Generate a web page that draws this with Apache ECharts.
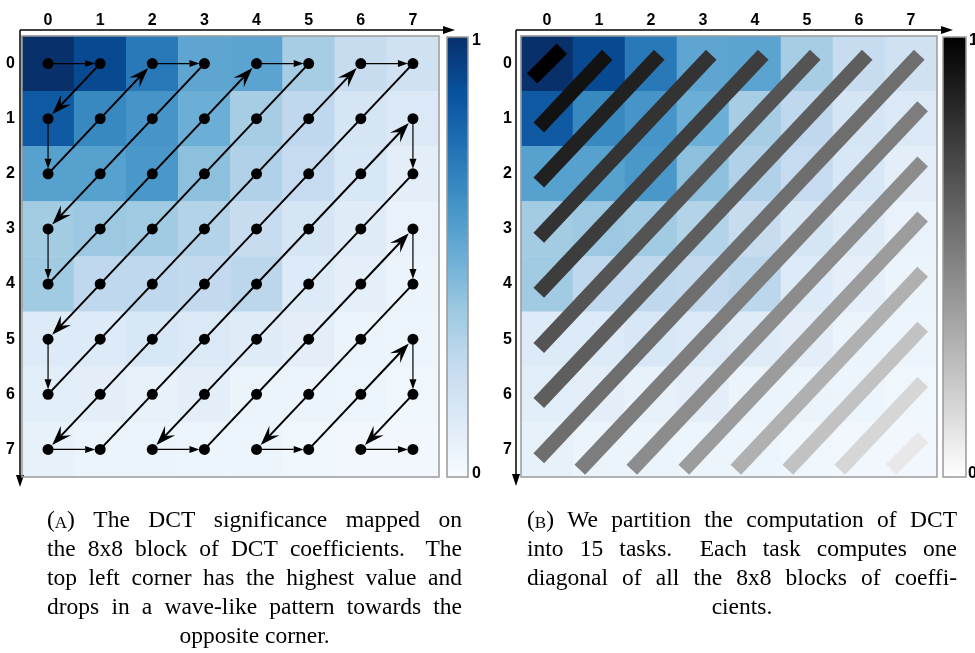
<!DOCTYPE html>
<html><head><meta charset="utf-8">
<script src="https://cdn.jsdelivr.net/npm/echarts@6/dist/echarts.min.js"></script>
<style>html,body{margin:0;padding:0;background:#fff}#c{width:975px;height:653px}</style>
</head><body><div id="c"></div>
<script>
// ---------- data ----------
const colLabels = ['0','1','2','3','4','5','6','7'];
const rowLabels = ['0','1','2','3','4','5','6','7'];
// DCT significance, row by row (row 0 at top), values 0..1
const sigRow0 = [1.00, 0.90, 0.72, 0.54, 0.55, 0.35, 0.24, 0.20];
const sigRow1 = [0.84, 0.66, 0.61, 0.50, 0.35, 0.27, 0.17, 0.14];
const sigRow2 = [0.56, 0.56, 0.60, 0.42, 0.32, 0.25, 0.16, 0.10];
const sigRow3 = [0.36, 0.38, 0.37, 0.31, 0.24, 0.17, 0.12, 0.07];
const sigRow4 = [0.37, 0.27, 0.27, 0.26, 0.28, 0.13, 0.09, 0.06];
const sigRow5 = [0.13, 0.13, 0.16, 0.14, 0.12, 0.10, 0.06, 0.05];
const sigRow6 = [0.11, 0.10, 0.08, 0.10, 0.06, 0.06, 0.05, 0.04];
const sigRow7 = [0.08, 0.06, 0.06, 0.05, 0.05, 0.04, 0.03, 0.03];
const significance = [sigRow0, sigRow1, sigRow2, sigRow3, sigRow4, sigRow5, sigRow6, sigRow7];
// zig-zag scan turning points, [row, col]
const scanPath = [[0,0],[0,1],[1,0],[2,0],[0,2],[0,3],[3,0],[4,0],[0,4],[0,5],[5,0],[6,0],[0,6],[0,7],
  [7,0],[7,1],[1,7],[2,7],[7,2],[7,3],[3,7],[4,7],[7,4],[7,5],[5,7],[6,7],[7,6],[7,7]];
// 15 diagonal tasks (index = row+col) and their shade value (1 = black, 0 = white)
const taskIndex = [0,1,2,3,4,5,6,7,8,9,10,11,12,13,14];
const taskShade = [1.00, 0.93, 0.87, 0.80, 0.76, 0.67, 0.63, 0.57, 0.51, 0.45, 0.39, 0.31, 0.24, 0.16, 0.09];
const colorbarTicks = ['1', '0'];
const captionA = ['(A) The DCT significance mapped on', 'the 8x8 block of DCT coefficients. The',
  'top left corner has the highest value and', 'drops in a wave-like pattern towards the', 'opposite corner.'];
const captionB = ['(B) We partition the computation of DCT', 'into 15 tasks. Each task computes one',
  'diagonal of all the 8x8 blocks of coeffi-', 'cients.'];

// ---------- style ----------
const blues = ['#f7fbff','#deebf7','#c6dbef','#9ecae1','#6baed6','#4292c6','#2171b5','#08519c','#08306b'];
const grays = ['#ffffff', '#000000'];
const labelFont = {color:'#000', fontWeight:'bold', fontSize:16, fontFamily:'Liberation Sans'};
const G = [
  {left:22, top:36, width:417, height:441},
  {left:521, top:36, width:416, height:441}
];

const heatData = [];
significance.forEach((row, r) => row.forEach((v, c) => heatData.push([c, r, v])));
const dotData = [];
rowLabels.forEach((_, r) => colLabels.forEach((_, c) => dotData.push([c, r])));
const arrowData = [];
for (let i = 0; i + 1 < scanPath.length; i++) {
  arrowData.push([scanPath[i][1], scanPath[i][0], scanPath[i+1][1], scanPath[i+1][0]]);
}
const barData = taskIndex.map((k, i) => [k, taskShade[i]]);

function catTop(g) {
  return {type:'category', gridIndex:g, position:'top', data:colLabels,
    axisLine:{show:false}, axisTick:{show:false}, splitLine:{show:false},
    axisLabel:Object.assign({margin:7}, labelFont)};
}
function catBottom(g) {
  return {type:'category', gridIndex:g, position:'bottom', data:colLabels,
    axisLine:{show:false}, axisLabel:{show:false}, splitLine:{show:false},
    axisTick:{show:true, inside:true, alignWithLabel:true, length:3, lineStyle:{color:'#aaa'}}};
}
function catLeft(g, m) {
  return {type:'category', gridIndex:g, position:'left', inverse:true, data:rowLabels,
    axisLine:{show:false}, axisTick:{show:false}, splitLine:{show:false},
    axisLabel:Object.assign({margin:m}, labelFont)};
}
function catRight(g) {
  return {type:'category', gridIndex:g, position:'right', inverse:true, data:rowLabels,
    axisLine:{show:false}, axisLabel:{show:false}, splitLine:{show:false},
    axisTick:{show:true, inside:true, alignWithLabel:true, length:3, lineStyle:{color:'#aaa'}}};
}
function valAxis(g, inv) {
  return {type:'value', gridIndex:g, min:-0.5, max:7.5, inverse:!!inv, show:false};
}

function renderArrow(params, api) {
  const p0 = api.coord([api.value(0), api.value(1)]);
  const p1 = api.coord([api.value(2), api.value(3)]);
  const diag = api.value(0) !== api.value(2) && api.value(1) !== api.value(3);
  const dx = p1[0]-p0[0], dy = p1[1]-p0[1], len = Math.hypot(dx, dy);
  const ux = dx/len, uy = dy/len, nx = -uy, ny = ux;
  const headL = diag ? 20 : 10, headW = diag ? 14 : 7, lw = diag ? 2 : 1.2, gap = diag ? 6 : 5;
  const notchF = diag ? 0.62 : 1.0;
  const tip = [p1[0]-ux*gap, p1[1]-uy*gap];
  const back = [tip[0]-ux*headL, tip[1]-uy*headL];
  const notch = [tip[0]-ux*headL*notchF, tip[1]-uy*headL*notchF];
  return {type:'group', children:[
    {type:'line', shape:{x1:p0[0], y1:p0[1], x2:notch[0], y2:notch[1]}, style:{stroke:'#000', lineWidth:lw}},
    {type:'polygon', shape:{points:[tip, [back[0]+nx*headW/2, back[1]+ny*headW/2], notch,
      [back[0]-nx*headW/2, back[1]-ny*headW/2]]}, style:{fill:'#000'}}
  ]};
}

function renderBar(params, api) {
  const k = api.value(0);
  let a, b; // [col,row]
  if (k <= 7) { a = [0, k]; b = [k, 0]; } else { a = [k-7, 7]; b = [7, k-7]; }
  const pa = api.coord(a), pb = api.coord(b);
  const dx = pb[0]-pa[0], dy = pb[1]-pa[1], len = Math.hypot(dx, dy);
  let ux = Math.SQRT1_2, uy = -Math.SQRT1_2;
  if (len > 1) { ux = dx/len; uy = dy/len; }
  const e0 = k === 0 ? 21 : (k <= 7 ? 12 : 28);
  const e1 = k === 0 ? 21 : (k <= 7 ? 12 : 17);
  const s = [pa[0]-ux*e0, pa[1]-uy*e0], e = [pb[0]+ux*e1, pb[1]+uy*e1];
  const hw = 7.3, nx = -uy*hw, ny = ux*hw;
  return {type:'polygon', shape:{points:[[s[0]+nx, s[1]+ny],[e[0]+nx, e[1]+ny],[e[0]-nx, e[1]-ny],[s[0]-nx, s[1]-ny]]},
    style:{fill:api.visual('color')}};
}

// ---------- captions (justified) ----------
const mctx = document.createElement('canvas').getContext('2d');
const capFont = '23.5px "Liberation Serif"', scFont = '17px "Liberation Serif"';
function measure(t, f) { mctx.font = f; return mctx.measureText(t).width; }
function pieces(w) {
  const m = w.match(/^\(([A-Z])\)$/);
  if (m) return [{t:'(', f:capFont}, {t:m[1], f:scFont, sc:true}, {t:')', f:capFont}];
  return [{t:w, f:capFont}];
}
function caption(lines, x0, x1, y0, lh, out) {
  lines.forEach((line, i) => {
    const y = y0 + i*lh;
    const words = line.split(' ');
    const ps = words.map(pieces);
    const ws = ps.map(p => p.reduce((s, q) => s + measure(q.t, q.f), 0));
    const total = ws.reduce((a, b) => a + b, 0);
    const last = i === lines.length - 1;
    let x, gaps;
    if (last) {
      const sp = measure(' ', capFont);
      x = (x0 + x1)/2 - (total + sp*(words.length-1))/2;
      gaps = words.map(() => sp);
    } else {
      const wts = words.map((w, j) => j < words.length-1 ? (/\.$/.test(w) ? 1.7 : 1) : 0);
      const unit = (x1 - x0 - total) / wts.reduce((a, b) => a + b, 0);
      x = x0; gaps = wts.map(t => t*unit);
    }
    ps.forEach((p, j) => {
      p.forEach(q => {
        out.push({type:'text', x:x, y:y + (q.sc ? 10 : 11), silent:true,
          style:{text:q.t, font:q.f, fill:'#000', align:'left', verticalAlign:'bottom'}});
        x += measure(q.t, q.f);
      });
      x += gaps[j];
    });
  });
}

const graphics = [];
// axis arrows
function axisArrows(xl, yt, xEnd, yEnd) {
  graphics.push({type:'line', shape:{x1:xl, y1:yt, x2:xEnd-10, y2:yt}, style:{stroke:'#000', lineWidth:1.5}, z:100});
  graphics.push({type:'polygon', shape:{points:[[xEnd, yt],[xEnd-12, yt-4],[xEnd-12, yt+4]]}, style:{fill:'#000'}, z:100});
  graphics.push({type:'line', shape:{x1:xl, y1:yt, x2:xl, y2:yEnd-10}, style:{stroke:'#000', lineWidth:1.5}, z:100});
  graphics.push({type:'polygon', shape:{points:[[xl, yEnd],[xl-4, yEnd-12],[xl+4, yEnd-12]]}, style:{fill:'#000'}, z:100});
}
axisArrows(20, 30, 455, 487);
axisArrows(516, 30, 953, 486);
// frames
G.forEach(g => graphics.push({type:'rect', shape:{x:g.left, y:g.top, width:g.width, height:g.height},
  style:{fill:null, stroke:'#9a9a9a', lineWidth:1.5}, z:100, silent:true}));
graphics.push({type:'rect', shape:{x:447, y:37, width:21, height:440}, style:{fill:null, stroke:'#999', lineWidth:1.5}, z:100});
graphics.push({type:'rect', shape:{x:943, y:37, width:23, height:440}, style:{fill:null, stroke:'#999', lineWidth:1.5}, z:100});
// colorbar tick labels
[[472, 41, 0],[472, 474, 1],[969, 41, 0],[968, 474, 1]].forEach(t => graphics.push({type:'text', x:t[0], y:t[1],
  style:{text:colorbarTicks[t[2]], font:'bold 16px "Liberation Sans"', fill:'#000', align:'left', verticalAlign:'middle'}, z:100}));
caption(captionA, 47, 462, 522, 29, graphics);
caption(captionB, 527, 957, 522, 29, graphics);

const option = {
  animation:false,
  backgroundColor:'#fff',
  grid:[
    Object.assign({}, G[0]), Object.assign({}, G[0]),
    Object.assign({}, G[1]), Object.assign({}, G[1])
  ],
  xAxis:[catTop(0), catBottom(0), valAxis(1), catTop(2), catBottom(2), valAxis(3)],
  yAxis:[catLeft(0, 7), catRight(0), valAxis(1, true), catLeft(2, 9), catRight(2), valAxis(3, true)],
  visualMap:[
    {type:'continuous', min:0, max:1, dimension:2, seriesIndex:[0, 1], orient:'vertical',
      left:447, top:37, itemWidth:21, itemHeight:440, padding:0, calculable:false, hoverLink:false,
      inRange:{color:blues}},
    {type:'continuous', min:0, max:1, dimension:1, seriesIndex:[4], orient:'vertical',
      left:943, top:37, itemWidth:23, itemHeight:440, padding:0, calculable:false, hoverLink:false,
      inRange:{color:grays}}
  ],
  series:[
    {type:'heatmap', xAxisIndex:0, yAxisIndex:0, data:heatData, itemStyle:{borderWidth:0}, z:2},
    {type:'heatmap', xAxisIndex:3, yAxisIndex:3, data:heatData, itemStyle:{borderWidth:0}, z:2},
    {type:'custom', xAxisIndex:2, yAxisIndex:2, data:arrowData, renderItem:renderArrow, z:3, silent:true},
    {type:'scatter', xAxisIndex:2, yAxisIndex:2, data:dotData, symbol:'circle', symbolSize:11,
      itemStyle:{color:'#000', opacity:1}, z:4, silent:true},
    {type:'custom', xAxisIndex:5, yAxisIndex:5, data:barData, renderItem:renderBar, z:3, silent:true,
      encode:{x:0, y:1}}
  ],
  graphic:graphics
};
const chart = echarts.init(document.getElementById('c'), null, {renderer:'canvas'});
chart.setOption(option);
</script></body></html>
